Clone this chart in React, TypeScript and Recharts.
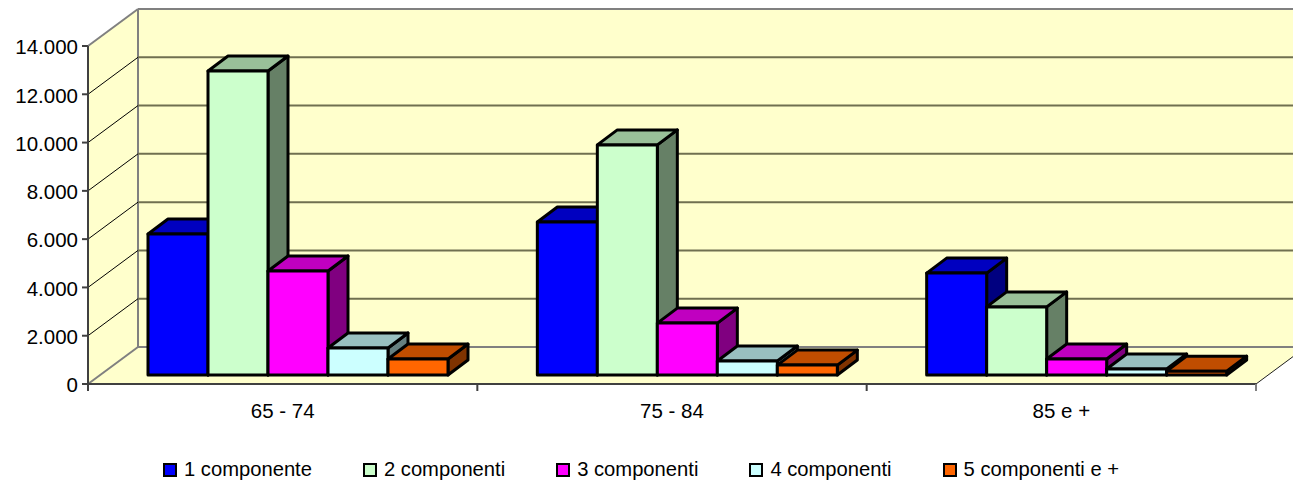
import React from 'react';
import { BarChart, Bar, XAxis, YAxis, CartesianGrid, Legend } from 'recharts';

const categories = ['65 - 74', '75 - 84', '85 e +'];
const seriesNames = ['1 componente', '2 componenti', '3 componenti', '4 componenti', '5 componenti e +'];
const seriesColors = ['#0000FF', '#CCFFCC', '#FF00FF', '#CCFFFF', '#FF6600'];
const topColors = ['#0000C0', '#99C099', '#C000C0', '#99C0C0', '#C04D00'];
const sideColors = ['#000080', '#668066', '#800080', '#668080', '#803300'];

const values1 = [5840, 6340, 4220];
const values2 = [12590, 9530, 2820];
const values3 = [4310, 2150, 660];
const values4 = [1120, 580, 250];
const values5 = [660, 410, 160];
const allValues = [values1, values2, values3, values4, values5];

const yTicks = [0, 2000, 4000, 6000, 8000, 10000, 12000, 14000];

const chartData = categories.map((name, i) => {
  const row: Record<string, string | number> = { name };
  seriesNames.forEach((s, k) => {
    row[s] = allValues[k][i];
  });
  return row;
});

const WIDTH = 1293;
const HEIGHT = 482;
const LEFT = 88;
const TOP = 46;
const RIGHT = 1256;
const BOTTOM = 384;
const WALL_DX = 50;
const WALL_DY = 37;
const BAR_DX = 15;
const BAR_DY = 9;
const DEPTH_DX = 20;
const DEPTH_DY = 15;
const BAND = (RIGHT - LEFT) / categories.length;
const FONT = '"Liberation Sans", Arial, sans-serif';
const WALL = '#FFFFCC';
const GRID_GRAY = '#808080';

const formatTick = (v: number) => String(v).replace(/\B(?=(\d{3})+$)/g, '.');

// painted under the chart, the grid layer of recharts always sits below its customized layer
const Walls = () => (
  <svg width={WIDTH} height={HEIGHT} style={{ position: 'absolute', left: 0, top: 0 }}>
    <polygon
      points={`${LEFT + WALL_DX},${TOP - WALL_DY} ${RIGHT + WALL_DX},${TOP - WALL_DY} ${RIGHT + WALL_DX},${BOTTOM - WALL_DY} ${LEFT + WALL_DX},${BOTTOM - WALL_DY}`}
      fill={WALL}
    />
    <polygon
      points={`${LEFT},${TOP} ${LEFT + WALL_DX},${TOP - WALL_DY} ${LEFT + WALL_DX},${BOTTOM - WALL_DY} ${LEFT},${BOTTOM}`}
      fill={WALL}
    />
    <polygon
      points={`${LEFT},${BOTTOM} ${LEFT + WALL_DX},${BOTTOM - WALL_DY} ${RIGHT + WALL_DX},${BOTTOM - WALL_DY} ${RIGHT},${BOTTOM}`}
      fill={WALL}
    />
    <line x1={LEFT + WALL_DX} y1={TOP - WALL_DY} x2={LEFT + WALL_DX} y2={BOTTOM - WALL_DY} stroke={GRID_GRAY} strokeWidth={2} />
    <line x1={RIGHT} y1={BOTTOM} x2={RIGHT + WALL_DX} y2={BOTTOM - WALL_DY} stroke="#202020" strokeWidth={1} />
  </svg>
);

const GridLine = (props: any) => {
  const { x1, x2, y1 } = props;
  const edge = Math.abs(y1 - TOP) < 1 || Math.abs(y1 - BOTTOM) < 1;
  return (
    <g>
      <line
        x1={x1}
        y1={y1}
        x2={x1 + WALL_DX}
        y2={y1 - WALL_DY}
        stroke={edge ? GRID_GRAY : '#000000'}
        strokeWidth={edge ? 2 : 1}
      />
      <line
        x1={x1 + WALL_DX}
        y1={y1 - WALL_DY}
        x2={x2 + WALL_DX}
        y2={y1 - WALL_DY}
        stroke={edge ? GRID_GRAY : '#707050'}
        strokeWidth={2}
      />
    </g>
  );
};

const CategoryTick = (props: any) => {
  const { x, y, payload, index } = props;
  const left = x - BAND / 2;
  return (
    <g>
      <line x1={left} y1={BOTTOM} x2={left} y2={BOTTOM + 7} stroke="#404040" strokeWidth={2} />
      {index === categories.length - 1 && (
        <line x1={left + BAND} y1={BOTTOM} x2={left + BAND} y2={BOTTOM + 7} stroke="#808080" strokeWidth={2} />
      )}
      <text x={x} y={y + 26} textAnchor="middle" fontSize={20.5} fontFamily={FONT} fill="#000000">
        {payload.value}
      </text>
    </g>
  );
};

const Box3D = (props: any) => {
  const { x, y, width, height, fill, seriesIndex } = props;
  const fx = x + BAR_DX;
  const fy = y - BAR_DY;
  const fr = fx + width;
  const fb = fy + height;
  return (
    <g stroke="#000000" strokeWidth={3} strokeLinejoin="round">
      <polygon
        points={`${fr},${fy} ${fr + DEPTH_DX},${fy - DEPTH_DY} ${fr + DEPTH_DX},${fb - DEPTH_DY} ${fr},${fb}`}
        fill={sideColors[seriesIndex]}
      />
      <polygon
        points={`${fx},${fy} ${fx + DEPTH_DX},${fy - DEPTH_DY} ${fr + DEPTH_DX},${fy - DEPTH_DY} ${fr},${fy}`}
        fill={topColors[seriesIndex]}
      />
      <rect x={fx} y={fy} width={width} height={height} fill={fill} />
    </g>
  );
};

const LegendRow = () => (
  <div style={{ display: 'flex', gap: 51, fontFamily: FONT, fontSize: 20.2, color: '#000000', whiteSpace: 'nowrap' }}>
    {seriesNames.map((name, i) => (
      <div key={name} style={{ display: 'flex', alignItems: 'center', gap: 7 }}>
        <span
          style={{
            display: 'inline-block',
            width: 10,
            height: 10,
            border: '2.5px solid #000000',
            background: seriesColors[i],
          }}
        />
        <span>{name}</span>
      </div>
    ))}
  </div>
);

export default function App() {
  return (
    <div style={{ position: 'absolute', left: 0, top: 0, width: WIDTH, height: HEIGHT, background: '#FFFFFF', overflow: 'hidden' }}>
      <Walls />
      <BarChart
        width={WIDTH}
        height={HEIGHT}
        data={chartData}
        margin={{ top: TOP, right: WIDTH - RIGHT, bottom: 0, left: 0 }}
        barSize={60}
        barGap={0}
      >
        <CartesianGrid vertical={false} horizontal={(p: any) => <GridLine key={p.key} {...p} />} />
        <XAxis
          dataKey="name"
          height={HEIGHT - BOTTOM}
          tickLine={false}
          axisLine={{ stroke: '#404040', strokeWidth: 2 }}
          tick={(p: any) => <CategoryTick {...p} />}
          interval={0}
        />
        <YAxis
          width={LEFT}
          domain={[0, 14000]}
          ticks={yTicks}
          tickFormatter={formatTick}
          tickSize={6}
          tickMargin={4}
          interval={0}
          axisLine={{ stroke: '#404040', strokeWidth: 2 }}
          tickLine={{ stroke: '#404040', strokeWidth: 2 }}
          tick={{ fontSize: 20.5, fontFamily: FONT, fill: '#000000', dy: 1 }}
        />
        {seriesNames.map((name, i) => (
          <Bar
            key={name}
            dataKey={name}
            name={name}
            fill={seriesColors[i]}
            isAnimationActive={false}
            shape={(p: any) => <Box3D {...p} seriesIndex={i} />}
          />
        ))}
        <Legend
          verticalAlign="middle"
          content={<LegendRow />}
          wrapperStyle={{ left: 163, top: 458, width: 'auto', bottom: 'auto' }}
        />
      </BarChart>
    </div>
  );
}
